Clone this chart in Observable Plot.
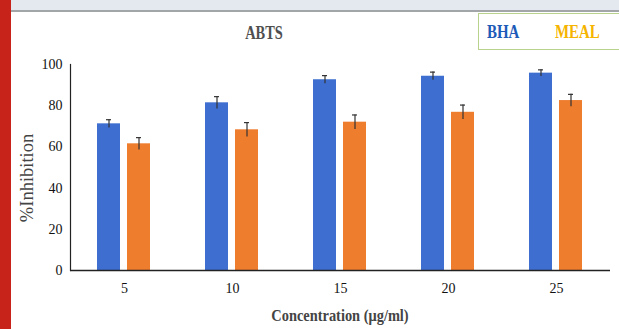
<!DOCTYPE html>
<html>
<head>
<meta charset="utf-8">
<script src="https://cdn.jsdelivr.net/npm/d3@7"></script>
<script src="https://cdn.jsdelivr.net/npm/@observablehq/plot@0.6"></script>
<style>
  html, body { margin: 0; padding: 0; background: #fff; }
  #wrap { position: relative; width: 619px; height: 329px; overflow: hidden; background: #fff; font-family: "Liberation Serif", "DejaVu Serif", serif; }
  #chart { position: absolute; left: 0; top: 0; }
  .abs { position: absolute; white-space: nowrap; }
  #redstrip { left: 0; top: 0; width: 11px; height: 329px; background: #c8231b; }
  #topstrip { left: 0; top: 0; width: 619px; height: 10px; background: #e3e9ef; border-bottom: 2px solid #a3a6a9; }
  #title { left: 264px; top: 33px; transform: translate(-50%, -50%) scaleX(0.8); font-weight: bold; font-size: 18px; color: #4f4f4f; }
  #legend { left: 478px; top: 13px; width: 160px; height: 35px; border: 1.5px solid #b9d28e; background: #fff; }
  #legend span { position: absolute; top: 50%; transform: translateY(-50%) scaleX(0.83); transform-origin: left center; font-weight: bold; font-size: 18px; }
  #ylabel { left: 27px; top: 178px; transform: translate(-50%, -50%) rotate(-90deg); font-size: 18.5px; color: #444; }
  #xlabel { left: 340px; top: 316px; transform: translate(-50%, -50%) scaleX(0.9); font-weight: bold; font-size: 16px; color: #444; }
</style>
</head>
<body>
<div id="wrap">
  <div id="chart"></div>
  <div class="abs" id="topstrip"></div>
  <div class="abs" id="redstrip"></div>
  <div class="abs" id="title">ABTS</div>
  <div class="abs" id="legend"><span id="lg1" style="left:8px;color:#1e5bb8">BHA</span><span id="lg2" style="left:76px;color:#f5b400">MEAL</span></div>
  <div class="abs" id="ylabel">%Inhibition</div>
  <div class="abs" id="xlabel">Concentration (μg/ml)</div>
</div>
<script>
const concentrations = ["5", "10", "15", "20", "25"];
const seriesNames = ["BHA", "MEAL"];
const bhaValues = [71.2, 81.4, 92.6, 94.3, 95.8];
const bhaErrors = [2, 3, 2, 2, 1.6];
const mealValues = [61.5, 68.3, 72.0, 76.8, 82.5];
const mealErrors = [3, 3.5, 3.5, 3.5, 3];
const yTicks = [0, 20, 40, 60, 80, 100];
const seriesColors = ["#3e6fd0", "#ef7d2e"];

const data = [];
concentrations.forEach((c, i) => {
  data.push({conc: c, series: "BHA", value: bhaValues[i], err: bhaErrors[i]});
  data.push({conc: c, series: "MEAL", value: mealValues[i], err: mealErrors[i]});
});

const chart = Plot.plot({
  width: 619,
  height: 329,
  marginLeft: 70,
  marginRight: 9,
  marginTop: 64,
  marginBottom: 59,
  style: {fontFamily: "'Liberation Serif', serif", fontSize: "14px", color: "#111", background: "transparent"},
  fx: {domain: concentrations, padding: 0, label: null, tickSize: 0, tickPadding: 13},
  x: {domain: seriesNames, paddingInner: 0.2258, paddingOuter: 0.855, axis: null},
  y: {domain: [0, 100], ticks: yTicks, tickSize: 0, tickPadding: 8, label: null},
  color: {domain: seriesNames, range: seriesColors},
  marks: [
    Plot.barY(data, {fx: "conc", x: "series", y: "value", fill: "series"}),
    Plot.ruleX(data, {fx: "conc", x: "series", y1: d => d.value - d.err, y2: d => d.value + d.err, stroke: "#333", strokeWidth: 1.2}),
    Plot.tickY(data, {fx: "conc", x: "series", y: d => d.value + d.err, stroke: "#333", strokeWidth: 1.2, insetLeft: 9, insetRight: 9}),
    Plot.ruleY([0], {stroke: "#222", strokeWidth: 1.5}),
    Plot.frame({anchor: "left", facetAnchor: "left", stroke: "#222", strokeWidth: 1.2})
  ]
});
document.getElementById("chart").appendChild(chart);
</script>
</body>
</html>
